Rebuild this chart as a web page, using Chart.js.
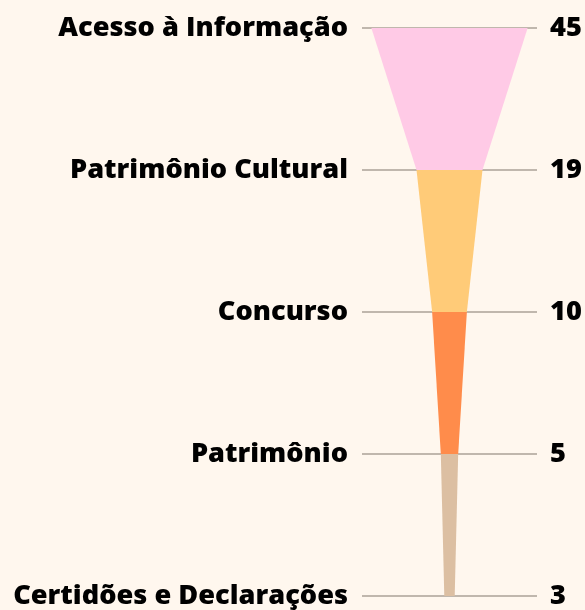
<!DOCTYPE html>
<html><head><meta charset="utf-8">
<script src="https://cdn.jsdelivr.net/npm/chart.js@4"></script>
<style>html,body{margin:0;padding:0;background:#FFF7EE;}#wrap{width:585px;height:610px;position:relative;}</style>
</head><body><div id="wrap"><canvas id="c"></canvas></div>
<script>
const categories = ['Acesso à Informação','Patrimônio Cultural','Concurso','Patrimônio','Certidões e Declarações'];
const values = [45, 19, 10, 5, 3];
const segmentColors = ['#FFCAE6','#FFCB78','#FF8C4B','#DCBFA2'];

const halfRange = 25.2;
const leftEdge = values.map(v => -v/2);
const rightEdge = values.map(v => v/2);
const font = {family: '"Open Sans"', size: 27.2, weight: '800'};

new Chart(document.getElementById('c'), {
  type: 'line',
  data: {
    labels: categories,
    datasets: [
      {data: leftEdge, borderWidth: 0, pointRadius: 0, fill: false, tension: 0},
      {data: rightEdge, borderWidth: 0, pointRadius: 0, fill: '-1', tension: 0,
       backgroundColor: segmentColors[0],
       segment: {backgroundColor: ctx => segmentColors[ctx.p0DataIndex]}}
    ]
  },
  options: {
    indexAxis: 'y',
    responsive: true,
    maintainAspectRatio: false,
    animation: false,
    layout: {padding: {top: 28, bottom: 14, left: 0, right: 0}},
    plugins: {legend: {display: false}, tooltip: {enabled: false}},
    scales: {
      x: {type: 'linear', min: -halfRange, max: halfRange, display: false},
      y: {type: 'category', position: 'left', offset: false,
          grid: {color: '#C0B7AD', lineWidth: 2, drawTicks: false, drawOnChartArea: true},
          border: {display: false},
          ticks: {color: '#000', font: font, padding: 14},
          afterFit: s => { s.width = 362; s.paddingTop = 0; s.paddingBottom = 0; }},
      y2: {type: 'category', position: 'right', offset: false, labels: values.map(String),
          grid: {display: false, drawTicks: false}, border: {display: false},
          ticks: {color: '#000', font: font, padding: 13},
          afterFit: s => { s.width = 48; s.paddingTop = 0; s.paddingBottom = 0; }}
    }
  }
});
</script></body></html>
